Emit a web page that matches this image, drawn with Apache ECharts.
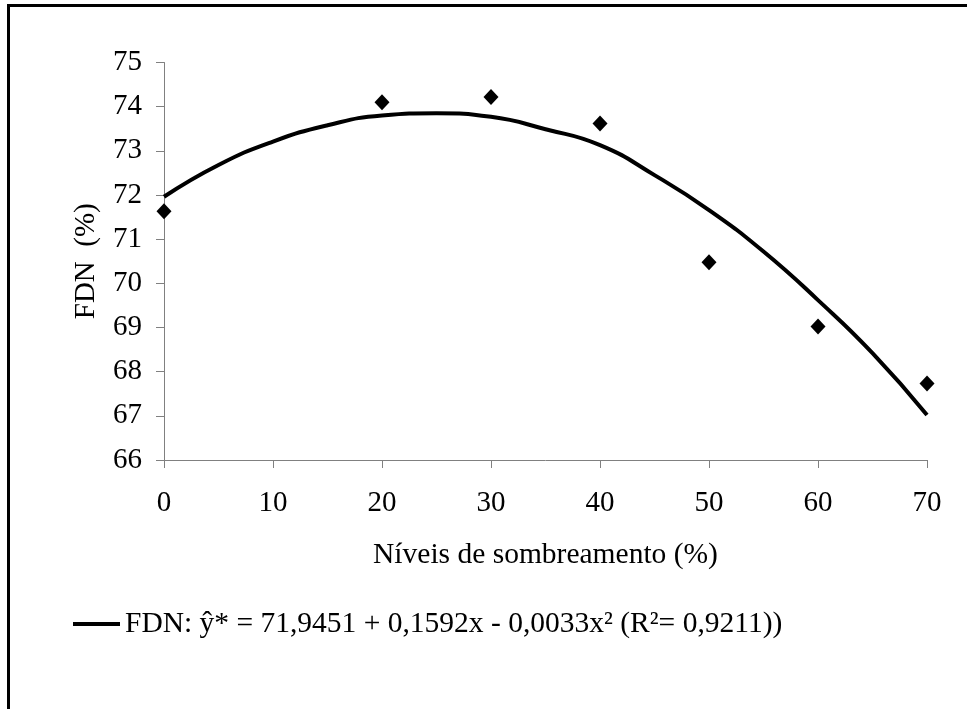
<!DOCTYPE html>
<html>
<head>
    <meta http-equiv="Content-Type" content="text/html; charset=utf-8" />
    <title>FDN</title>
    <script src="https://cdn.jsdelivr.net/npm/echarts@6/dist/echarts.min.js"></script>
    <style>
        html, body { margin: 0; padding: 0; background: #fff; }
        #main { width: 967px; height: 709px; }
    </style>
</head>
<body>
    <div id="main"></div>
<script type="text/javascript">
    // niveis de sombreamento (%)
    var niveis = [0, 20, 30, 40, 50, 60, 70];
    // FDN observado (%)
    var fdnObs = [71.63, 74.1, 74.22, 73.62, 70.48, 69.02, 67.73];
    var curvaX = [0, 5, 10, 15, 20, 25, 30, 35, 40, 45, 50, 55, 60, 65, 70];
    var curvaY = [71.96, 72.68, 73.21, 73.58, 73.8, 73.85, 73.77, 73.49, 73.13, 72.45, 71.66, 70.72, 69.62, 68.42, 67.02];
    var xTicks = [0, 10, 20, 30, 40, 50, 60, 70];
    var yTicks = [66, 67, 68, 69, 70, 71, 72, 73, 74, 75];

    var nomeCurva = 'FDN: ŷ* = 71,9451 + 0,1592x - 0,0033x² (R²= 0,9211))';
    var fonte = '"Liberation Serif", "Times New Roman", serif';
    var cinza = '#808080';

    var myChart = echarts.init(document.getElementById('main'));

    var option = {
        animation: false,
        backgroundColor: '#fff',
        textStyle: { fontFamily: fonte, color: '#000' },
        grid: { left: 164, right: 40, top: 62.5, bottom: 249 },
        legend: {
            data: [nomeCurva],
            left: 73,
            top: 609,
            padding: 0,
            icon: 'rect',
            itemWidth: 47,
            itemHeight: 4,
            itemGap: 5,
            textStyle: { fontFamily: fonte, fontSize: 29.5, color: '#000' }
        },
        graphic: [{
            type: 'rect',
            shape: { x: 8.5, y: 5.5, width: 2000, height: 2000 },
            style: { fill: 'none', stroke: '#000', lineWidth: 3 },
            silent: true
        }],
        xAxis: {
            type: 'value',
            min: xTicks[0],
            max: xTicks[xTicks.length - 1],
            interval: 10,
            name: 'Níveis de sombreamento (%)',
            nameLocation: 'middle',
            nameGap: 80,
            nameTextStyle: { fontFamily: fonte, fontSize: 29.5, color: '#000' },
            axisLine: { lineStyle: { color: cinza, width: 1 } },
            axisTick: { show: true, length: 8, lineStyle: { color: cinza } },
            axisLabel: { margin: 29, fontFamily: fonte, fontSize: 29, color: '#000' },
            splitLine: { show: false }
        },
        yAxis: {
            type: 'value',
            min: yTicks[0],
            max: yTicks[yTicks.length - 1],
            interval: 1,
            name: 'FDN  (%)',
            nameLocation: 'middle',
            nameGap: 63,
            nameTextStyle: { fontFamily: fonte, fontSize: 29, color: '#000' },
            axisLine: { show: true, lineStyle: { color: cinza, width: 1 } },
            axisTick: { show: true, length: 8, lineStyle: { color: cinza } },
            axisLabel: { margin: 22, fontFamily: fonte, fontSize: 29, color: '#000' },
            splitLine: { show: false }
        },
        series: [
            {
                name: nomeCurva,
                type: 'line',
                smooth: 0.5,
                symbol: 'none',
                data: curvaX.map(function (x, i) { return [x, curvaY[i]]; }),
                lineStyle: { color: '#000', width: 4 },
                itemStyle: { color: '#000' },
                z: 2
            },
            {
                name: 'FDN',
                type: 'scatter',
                symbol: 'diamond',
                symbolSize: [15, 16],
                data: niveis.map(function (x, i) { return [x, fdnObs[i]]; }),
                itemStyle: { color: '#000', opacity: 1 },
                z: 3
            }
        ]
    };

    myChart.setOption(option);
</script>
</body>
</html>
